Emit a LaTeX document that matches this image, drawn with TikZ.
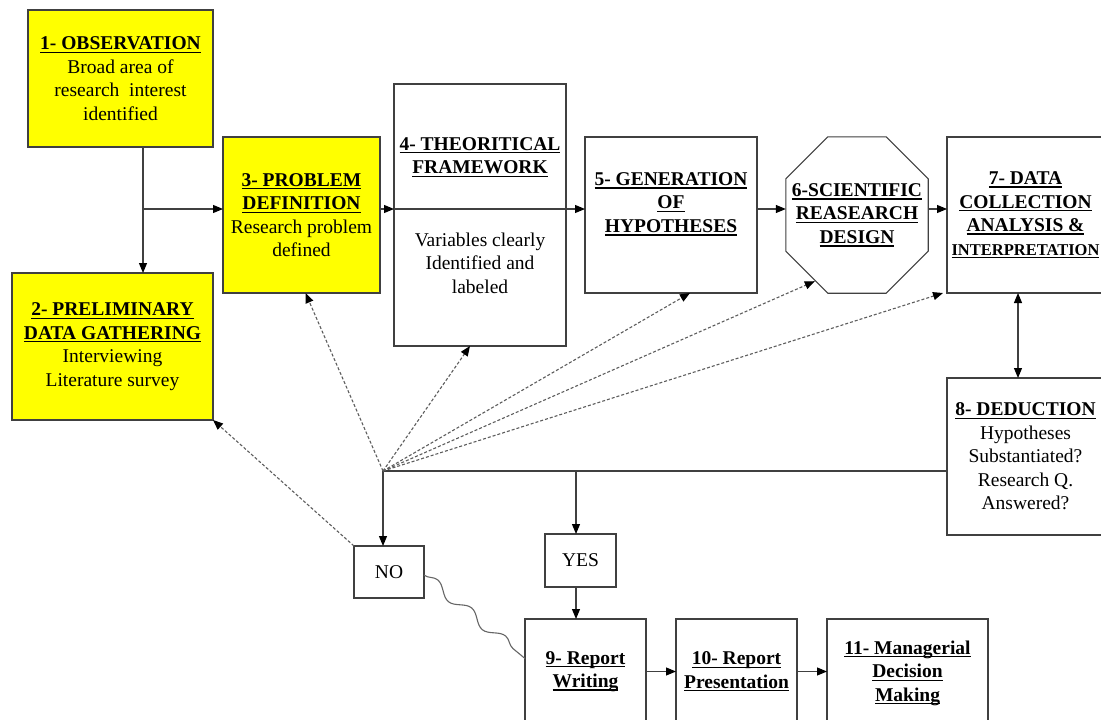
\documentclass[tikz,border=0pt]{standalone}
\usepackage{fontspec}
\setmainfont{Liberation Serif}
\usetikzlibrary{arrows.meta,decorations.pathmorphing,calc}

\definecolor{boxyellow}{RGB}{255,255,0}
\definecolor{edgegray}{RGB}{64,64,64}
\newcommand{\bodyfont}{\fontsize{19.5}{23.5}\selectfont}
\newcommand{\smallbody}{\fontsize{16.5}{22}\selectfont}
% bold heading with a firm underline
\newcommand{\ttl}[1]{\setbox0\hbox{\textbf{#1}}%
  \leavevmode\rlap{\rule[-3.2pt]{\wd0}{1.3pt}}\box0}

\tikzset{
  box/.style={draw=edgegray, line width=1.1pt, inner sep=0pt, outer sep=0pt,
              align=center, font=\bodyfont},
  ybox/.style={box, fill=boxyellow},
  txt/.style={inner sep=0pt, align=center, font=\bodyfont},
  tip/.style={-{Triangle[length=10pt,width=8pt,color=black,fill=black]}},
  flow/.style={draw=edgegray, line width=1.1pt, tip},
  plain/.style={draw=edgegray, line width=1.1pt},
  feedback/.style={draw=edgegray!85, line width=1.1pt, dash pattern=on 3pt off 2pt, tip},
}

\begin{document}
\begin{tikzpicture}[x=1pt,y=-1pt]
  \useasboundingbox (0,0) rectangle (1101,720);
  \clip (0,0) rectangle (1101,720);
  \fill[white] (0,0) rectangle (1101,720);

  % stage boxes
  \node[ybox, minimum width=185, minimum height=137] (obs) at (120.5,78.5)
    {\ttl{1- OBSERVATION}\\Broad area of\\research\ \ interest\\identified};
  \node[ybox, minimum width=201, minimum height=147] (prelim) at (112.5,346.5)
    {\ttl{2- PRELIMINARY}\\\ttl{DATA GATHERING}\\Interviewing\\Literature survey};
  \node[ybox, minimum width=157, minimum height=156] (prob) at (301.5,215)
    {\ttl{3- PROBLEM}\\\ttl{DEFINITION}\\Research problem\\defined};

  \node[box, minimum width=172, minimum height=262] (theo) at (480,215) {};
  \node[txt] (theotitle) at (480,157) {\ttl{4- THEORITICAL}\\\ttl{FRAMEWORK}};
  \node[txt] (theobody) at (480,263) {Variables clearly\\Identified and\\labeled};

  \node[box, minimum width=172, minimum height=156] (gen) at (671,215) {};
  \node[txt] (gentext) at (671,204) {\ttl{5- GENERATION}\\\ttl{OF}\\\ttl{HYPOTHESES}};

  \node[txt, minimum width=142, minimum height=156] (sci) at (857,215)
    {\ttl{6-SCIENTIFIC}\\\ttl{REASEARCH}\\\ttl{DESIGN}};
  \draw[plain] ($(sci.north west)+(42,0)$) -- ($(sci.north east)+(-42,0)$)
    -- ($(sci.north east)+(0,42)$) -- ($(sci.south east)+(0,-42)$)
    -- ($(sci.south east)+(-42,0)$) -- ($(sci.south west)+(42,0)$)
    -- ($(sci.south west)+(0,-42)$) -- ($(sci.north west)+(0,42)$) -- cycle;

  \node[box, minimum width=157, minimum height=156] (data) at (1025.5,215)
    {\ttl{7- DATA}\\\ttl{COLLECTION}\\\ttl{ANALYSIS \&}\\{\smallbody\ttl{INTERPRETATION}}};
  \node[box, minimum width=157, minimum height=157] (ded) at (1025.5,456.5)
    {\ttl{8- DEDUCTION}\\Hypotheses\\Substantiated?\\Research Q.\\Answered?};

  \node[box, minimum width=70, minimum height=52] (no) at (389,572) {NO};
  \node[box, minimum width=71, minimum height=53] (yes) at (580.5,560.5) {YES};

  \node[box, minimum width=121, minimum height=105] (rw) at (585.5,671.5)
    {\ttl{9- Report}\\\ttl{Writing}};
  \node[box, minimum width=121, minimum height=105] (rp) at (736.5,671.5)
    {\ttl{10- Report}\\\ttl{Presentation}};
  \node[box, minimum width=161, minimum height=108] (md) at (907.5,673)
    {\ttl{11- Managerial}\\\ttl{Decision}\\\ttl{Making}};

  % junction points of the connectors
  \coordinate (split) at (143,209);
  \coordinate (flowline) at (0,209);
  \coordinate (link) at (1018,0);
  \coordinate (hub) at (383,471);
  \coordinate (yesdrop) at (576,471);

  % forward flow
  \draw[plain] (obs.south -| split) -- (split);
  \draw[flow] (split) -- (prelim.north -| split);
  \draw[flow] (split) -- (prob.west |- split);
  \draw[flow] (prob.east |- flowline) -- (theo.west |- flowline);
  \draw[flow] (theo.west |- flowline) -- (gen.west |- flowline);
  \draw[flow] (gen.east |- flowline) -- (sci.west |- flowline);
  \draw[flow] (sci.east |- flowline) -- (data.west |- flowline);
  \draw[flow, {Triangle[length=10pt,width=8pt,color=black,fill=black]}-{Triangle[length=10pt,width=8pt,color=black,fill=black]}]
    (data.south -| link) -- (ded.north -| link);

  % decision branches
  \draw[plain] (ded.west |- hub) -- (hub);
  \draw[flow] (hub) -- (no.north -| hub);
  \draw[flow] (yesdrop) -- (yes.north -| yesdrop);
  \draw[flow] (yes.south -| yesdrop) -- (rw.north -| yesdrop);
  \draw[flow] (rw.east) -- (rp.west);
  \draw[flow] (rp.east) -- (md.west |- rp.east);

  % feedback loops back to earlier stages
  \draw[feedback] (no.north west) -- (prelim.south east);
  \draw[feedback] (hub) -- ($(prob.south)+(4,0)$);
  \draw[feedback] (hub) -- ($(theo.south)+(-10,0)$);
  \draw[feedback] (hub) -- ($(gen.south)+(19,0)$);
  \draw[feedback] (hub) -- ($(sci.south west)+(29,-12)$);
  \draw[feedback] (hub) -- ($(data.south west)+(-4,0)$);

  % wavy link from NO to report writing
  \draw[gray!80!black, line width=1.1pt, decorate,
        decoration={snake, segment length=44pt, amplitude=5pt}]
    ($(no.east)+(0,3)$) -- ($(rw.west)+(0,-13)$);
\end{tikzpicture}
\end{document}
